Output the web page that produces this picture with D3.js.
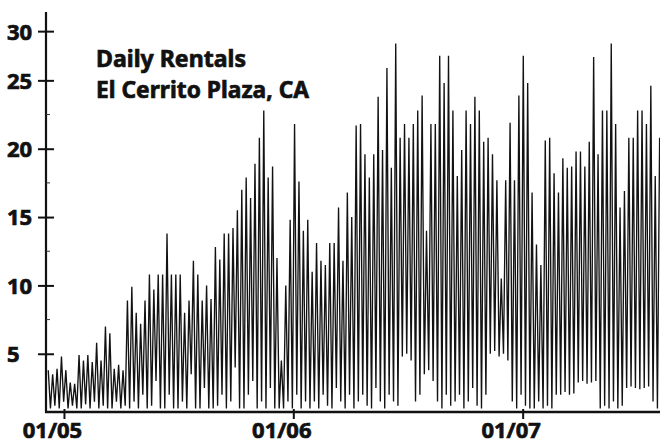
<!DOCTYPE html>
<html>
<head>
<meta charset="utf-8">
<script src="https://cdn.jsdelivr.net/npm/d3@7"></script>
<style>
  html, body { margin: 0; padding: 0; background: #fff; }
  svg { display: block; }
  text { font-family: "Noto Sans", "DejaVu Sans", sans-serif; font-weight: 700; fill: #111; stroke: #111; stroke-width: 0.7px; }
</style>
</head>
<body>
<svg id="chart" width="660" height="444"></svg>
<script>
// ---- data: weekly peak and mid-week low of daily rentals ----
const titleLines = ["Daily Rentals", "El Cerrito Plaza, CA"];
const titleWidths = [150, 213];
const weeklyPeaks = [
  3.8, 3.5, 3.9, 4.8, 3.8, 2.9, 2.8, 4.9, 4.5, 4.9,
  4.4, 5.8, 4.5, 7.0, 6.5, 3.9, 4.2, 3.8, 8.9, 9.9,
  8.0, 7.2, 8.9, 10.8, 9.7, 10.8, 10.8, 13.8, 10.8, 10.8,
  10.8, 8.0, 8.9, 11.8, 10.8, 8.9, 10.0, 9.0, 12.8, 11.9,
  13.8, 13.8, 14.2, 15.5, 17.0, 17.9, 16.4, 18.9, 20.8, 22.8,
  17.9, 18.7, 12.0, 4.5, 10.0, 14.8, 21.8, 17.6, 14.0, 14.8,
  11.0, 13.1, 11.8, 11.5, 13.1, 13.1, 15.7, 11.8, 16.8, 15.0,
  21.7, 21.8, 19.6, 17.9, 19.6, 23.8, 19.9, 25.9, 18.6, 27.7,
  20.8, 21.8, 20.8, 21.8, 22.8, 23.9, 14.0, 21.8, 21.8, 26.8,
  24.8, 26.8, 22.8, 18.0, 19.9, 22.8, 21.8, 23.8, 22.8, 20.5,
  20.8, 19.6, 17.7, 10.5, 17.7, 21.9, 17.7, 23.9, 26.8, 24.8,
  16.8, 13.0, 11.5, 20.6, 20.8, 18.2, 16.8, 19.3, 18.6, 18.7,
  19.8, 19.8, 18.7, 20.5, 26.7, 19.6, 22.8, 22.8, 27.7, 21.8,
  15.7, 16.9, 20.8, 20.8, 22.8, 22.8, 21.8, 24.6, 18.0, 20.8
];
const weeklyLows = [
  1.0, 1.2, 1.0, 1.5, 1.0, 1.2, 1.0, 1.0, 1.3, 1.0,
  1.5, 1.0, 1.2, 1.0, 1.0, 1.5, 1.0, 1.2,
  1.0, 1.5, 1.0, 2.0, 1.0, 1.2, 3.0, 1.0, 1.0, 2.0,
  1.0, 1.0, 1.5, 1.0, 3.5, 1.0, 1.0, 2.5, 1.0, 1.0,
  1.2, 2.0, 1.0, 1.5, 4.0, 1.0, 1.0, 2.0, 3.0, 1.0,
  1.5, 1.0, 2.5, 1.0, 1.0,
  1.0, 1.5, 1.0, 2.0, 1.0, 1.5, 1.0,
  1.5, 1.0, 2.0, 1.2, 1.0, 2.5, 1.5, 1.0, 2.0, 1.0,
  1.5, 2.0, 1.2, 1.0, 2.5, 1.5, 1.0, 2.0, 1.5, 1.2,
  4.8, 5.0, 4.5, 1.5, 2.0, 3.5, 3.8, 3.0, 1.5, 1.0,
  2.0, 1.2, 1.5, 2.0, 1.0, 1.5, 2.5, 1.2, 1.0, 2.0,
  5.0, 5.2, 4.8, 5.0, 4.5, 1.5, 1.0, 2.0, 1.2, 1.0,
  1.0, 1.5, 1.0, 1.2, 1.0, 2.0, 2.0, 2.2, 2.0, 2.1,
  2.9, 3.0, 2.8, 2.9, 3.0, 1.0, 1.2, 1.0, 1.5, 1.0,
  1.2, 2.5, 2.6, 2.5, 2.4, 2.5, 2.6, 1.5, 1.0
];
const firstPeakDate = new Date(2004, 11, 7);
const xDomain = [new Date(2004, 11, 5), new Date(2007, 7, 6)];
const xTickDates = [new Date(2005, 0, 1), new Date(2006, 0, 1), new Date(2007, 0, 1)];
const xTickLabels = ["01/05", "01/06", "01/07"];
const yDomain = [0.74, 30];
const yTickValues = [5, 10, 15, 20, 25, 28.6];
const yTickLabels = ["5", "10", "15", "20", "25", "30"];
const yMinorTicks = [7.5, 12.5, 17.5, 22.5];

// ---- build series ----
const series = [];
weeklyPeaks.forEach((v, i) => {
  const d = d3.timeDay.offset(firstPeakDate, 7 * i);
  series.push({ date: d, value: v });
  if (i < weeklyLows.length) {
    series.push({ date: d3.timeHour.offset(d, 84), value: weeklyLows[i] });
  }
});

// ---- layout ----
const svg = d3.select("#chart");
const axisX = 46, baseY = 412;
const x = d3.scaleTime().domain(xDomain).range([47, 659]);
const y = d3.scaleLinear().domain(yDomain).range([baseY, 12]);
const labelFont = "'Noto Sans', 'DejaVu Sans', sans-serif";

// line
const line = d3.line().x(d => x(d.date)).y(d => y(d.value));
svg.append("path")
  .datum(series)
  .attr("d", line)
  .attr("fill", "none")
  .attr("stroke", "#121212")
  .attr("stroke-width", 1.35)
  .attr("stroke-linejoin", "miter");

// y axis
const yAxis = d3.axisLeft(y)
  .tickValues(yTickValues)
  .tickFormat((d, i) => yTickLabels[i])
  .tickSize(8)
  .tickSizeOuter(0);
const gy = svg.append("g").attr("transform", `translate(${axisX},0)`).call(yAxis);
gy.select(".domain").remove();
gy.selectAll(".tick line").attr("x1", -8).attr("x2", 8).attr("stroke", "#111").attr("stroke-width", 2);
gy.selectAll(".tick text")
  .attr("x", -39).attr("text-anchor", "start").attr("dy", "0.36em")
  .style("font-size", "22px").style("font-family", labelFont).style("font-weight", 700).attr("fill", "#111");
svg.append("line").attr("x1", axisX).attr("x2", axisX).attr("y1", y(30)).attr("y2", baseY + 1)
  .attr("stroke", "#111").attr("stroke-width", 2.2);
svg.selectAll(".minor").data(yMinorTicks).enter().append("line")
  .attr("class", "minor")
  .attr("x1", axisX).attr("x2", axisX + 4)
  .attr("y1", d => y(d)).attr("y2", d => y(d))
  .attr("stroke", "#333").attr("stroke-width", 1);

// x axis
const xAxis = d3.axisBottom(x)
  .tickValues(xTickDates)
  .tickFormat((d, i) => xTickLabels[i])
  .tickSize(7)
  .tickSizeOuter(0);
const gx = svg.append("g").attr("transform", `translate(0,${baseY})`).call(xAxis);
gx.select(".domain").remove();
gx.selectAll(".tick line").attr("y1", -3).attr("stroke", "#111").attr("stroke-width", 2);
gx.selectAll(".tick text")
  .attr("y", 26).attr("dy", 0).attr("dx", -12)
  .style("font-size", "22px").style("font-family", labelFont).style("font-weight", 700).attr("fill", "#111");
svg.append("line").attr("x1", axisX - 1).attr("x2", 660).attr("y1", baseY).attr("y2", baseY)
  .attr("stroke", "#111").attr("stroke-width", 2.5);

// title
svg.append("g").selectAll("text").data(titleLines).enter().append("text")
  .attr("x", 96).attr("y", (d, i) => 67 + i * 31)
  .attr("textLength", (d, i) => titleWidths[i])
  .attr("lengthAdjust", "spacingAndGlyphs")
  .style("font-size", "23px")
  .style("font-family", labelFont)
  .style("font-weight", 700)
  .text(d => d);
</script>
</body>
</html>
